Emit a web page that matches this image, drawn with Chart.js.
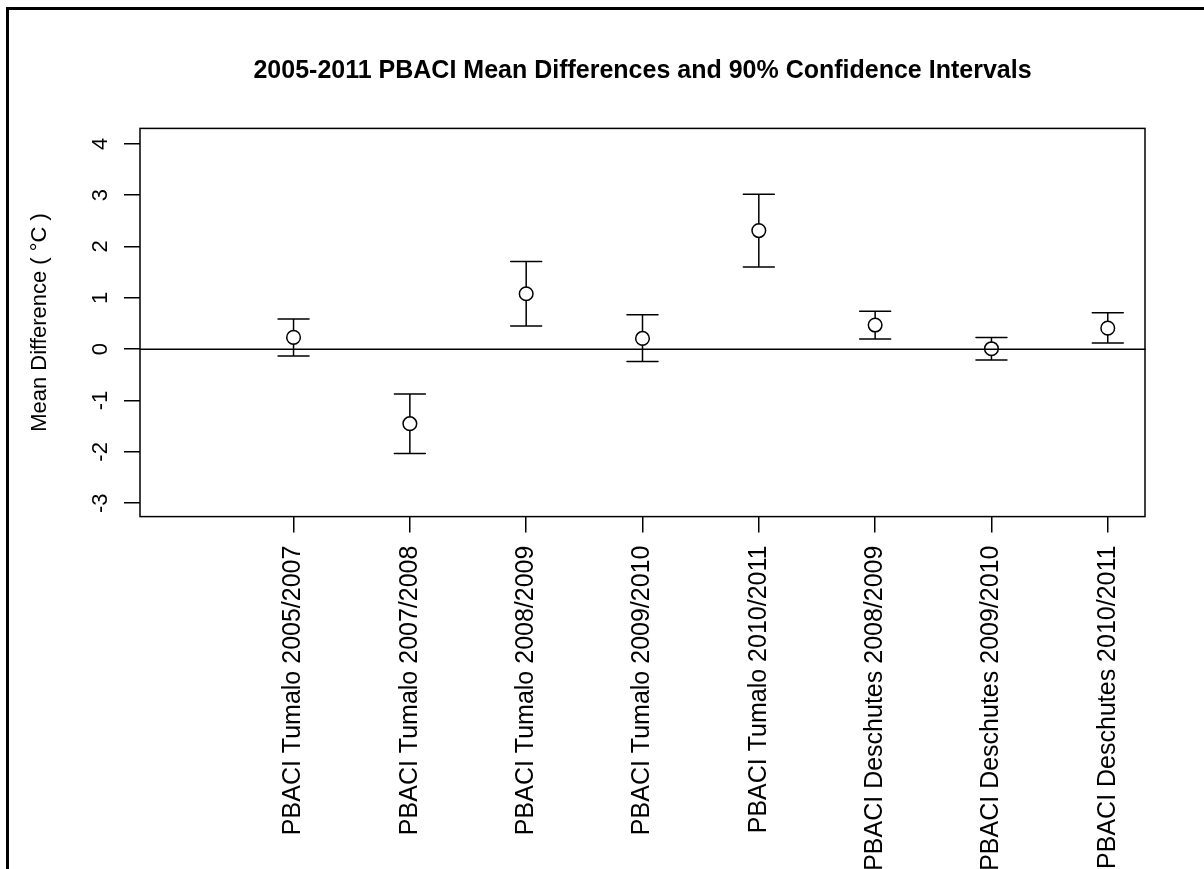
<!DOCTYPE html>
<html>
<head>
<meta charset="utf-8">
<script src="https://cdn.jsdelivr.net/npm/chart.js@4.4.0/dist/chart.umd.min.js"></script>
<style>
  html, body { margin: 0; padding: 0; background: #fff; }
  canvas { display: block; }
</style>
</head>
<body>
<canvas id="chart" width="1204" height="869"></canvas>
<script>
// Comparison labels, in plotting order along the x axis
const categories = [
  'PBACI Tumalo 2005/2007',
  'PBACI Tumalo 2007/2008',
  'PBACI Tumalo 2008/2009',
  'PBACI Tumalo 2009/2010',
  'PBACI Tumalo 2010/2011',
  'PBACI Deschutes 2008/2009',
  'PBACI Deschutes 2009/2010',
  'PBACI Deschutes 2010/2011'
];
const positions = [1, 2, 3, 4, 5, 6, 7, 8];

// Mean differences (°C) and the bounds of their 90% confidence intervals
const meanDiff = [0.23, -1.45, 1.08, 0.21, 2.31, 0.47, 0.01, 0.41];
const ciLower  = [-0.13, -2.03, 0.45, -0.24, 1.60, 0.20, -0.21, 0.12];
const ciUpper  = [0.59, -0.87, 1.71, 0.67, 3.02, 0.74, 0.23, 0.71];

// Y axis tick values
const yTicks = [-3, -2, -1, 0, 1, 2, 3, 4];

const FONT = "'Liberation Sans', Arial, Helvetica, sans-serif";
const INK = '#000';

// White page with the outer border
const pagePlugin = {
  id: 'page',
  beforeDraw(chart) {
    const ctx = chart.ctx;
    ctx.save();
    ctx.fillStyle = '#fff';
    ctx.fillRect(0, 0, chart.width, chart.height);
    ctx.strokeStyle = INK;
    ctx.lineWidth = 3;
    ctx.beginPath();
    ctx.moveTo(7.5, chart.height + 5);
    ctx.lineTo(7.5, 8.5);
    ctx.lineTo(chart.width + 5, 8.5);
    ctx.stroke();
    ctx.restore();
  }
};

// Plot box, zero reference line and the confidence interval bars
const intervalPlugin = {
  id: 'intervals',
  beforeDatasetsDraw(chart) {
    const ctx = chart.ctx;
    const area = chart.chartArea;
    const xs = chart.scales.x;
    const ys = chart.scales.y;
    const radius = chart.data.datasets[0].pointRadius;
    const capHalf = 15.5;

    ctx.save();
    ctx.strokeStyle = INK;
    ctx.lineWidth = 1.5;
    ctx.lineCap = 'round';

    // zero line
    const y0 = ys.getPixelForValue(0);
    ctx.beginPath();
    ctx.moveTo(area.left, y0);
    ctx.lineTo(area.right, y0);
    ctx.stroke();

    for (let i = 0; i < positions.length; i++) {
      const x = xs.getPixelForValue(positions[i]);
      const yHi = ys.getPixelForValue(ciUpper[i]);
      const yLo = ys.getPixelForValue(ciLower[i]);
      const yMid = ys.getPixelForValue(meanDiff[i]);
      ctx.beginPath();
      if (yMid - radius > yHi) {
        ctx.moveTo(x, yHi);
        ctx.lineTo(x, yMid - radius);
      }
      if (yMid + radius < yLo) {
        ctx.moveTo(x, yMid + radius);
        ctx.lineTo(x, yLo);
      }
      ctx.moveTo(x - capHalf, yHi);
      ctx.lineTo(x + capHalf, yHi);
      ctx.moveTo(x - capHalf, yLo);
      ctx.lineTo(x + capHalf, yLo);
      ctx.stroke();
    }

    // plot box
    ctx.lineCap = 'butt';
    ctx.strokeRect(area.left, area.top, area.right - area.left, area.bottom - area.top);
    ctx.restore();
  }
};

new Chart(document.getElementById('chart'), {
  type: 'scatter',
  data: {
    datasets: [{
      data: positions.map((p, i) => ({ x: p, y: meanDiff[i] })),
      pointStyle: 'circle',
      pointRadius: 6.8,
      pointHoverRadius: 6.8,
      pointBorderWidth: 1.5,
      pointBorderColor: INK,
      pointBackgroundColor: 'rgba(0,0,0,0)',
      showLine: false
    }]
  },
  options: {
    responsive: false,
    devicePixelRatio: 1,
    animation: false,
    events: [],
    layout: { padding: { top: 0, left: 0, right: 59, bottom: 0 } },
    plugins: {
      legend: { display: false },
      tooltip: { enabled: false },
      title: {
        display: true,
        fullSize: false,
        text: '2005-2011 PBACI Mean Differences and 90% Confidence Intervals',
        color: INK,
        font: { family: FONT, size: 25, weight: 'bold', lineHeight: 1.2 },
        padding: { top: 56, bottom: 42.4 }
      }
    },
    scales: {
      x: {
        type: 'linear',
        min: -0.32,
        max: 8.32,
        afterBuildTicks: s => { s.ticks = positions.map(v => ({ value: v })); },
        afterFit: s => { s.height = 352.4; },
        grid: { drawOnChartArea: false, drawTicks: true, tickLength: 16, color: INK, lineWidth: 1.5 },
        border: { display: false },
        ticks: {
          autoSkip: false,
          minRotation: 90,
          maxRotation: 90,
          padding: 13,
          color: INK,
          font: { family: FONT, size: 25 },
          callback: (v, i) => categories[i]
        }
      },
      y: {
        type: 'linear',
        min: -3.26,
        max: 4.30,
        afterBuildTicks: s => { s.ticks = yTicks.map(v => ({ value: v })); },
        afterFit: s => { s.width = 140; },
        grid: { drawOnChartArea: false, drawTicks: true, tickLength: 16, color: INK, lineWidth: 1.5 },
        border: { display: false },
        ticks: {
          minRotation: 90,
          maxRotation: 90,
          crossAlign: 'center',
          padding: 13,
          color: INK,
          font: { family: FONT, size: 22 },
          callback: v => String(v)
        },
        title: {
          display: true,
          text: 'Mean Difference ( °C )',
          color: INK,
          font: { family: FONT, size: 22 },
          padding: { top: 27, bottom: 0 }
        }
      }
    }
  },
  plugins: [pagePlugin, intervalPlugin]
});
</script>
</body>
</html>
